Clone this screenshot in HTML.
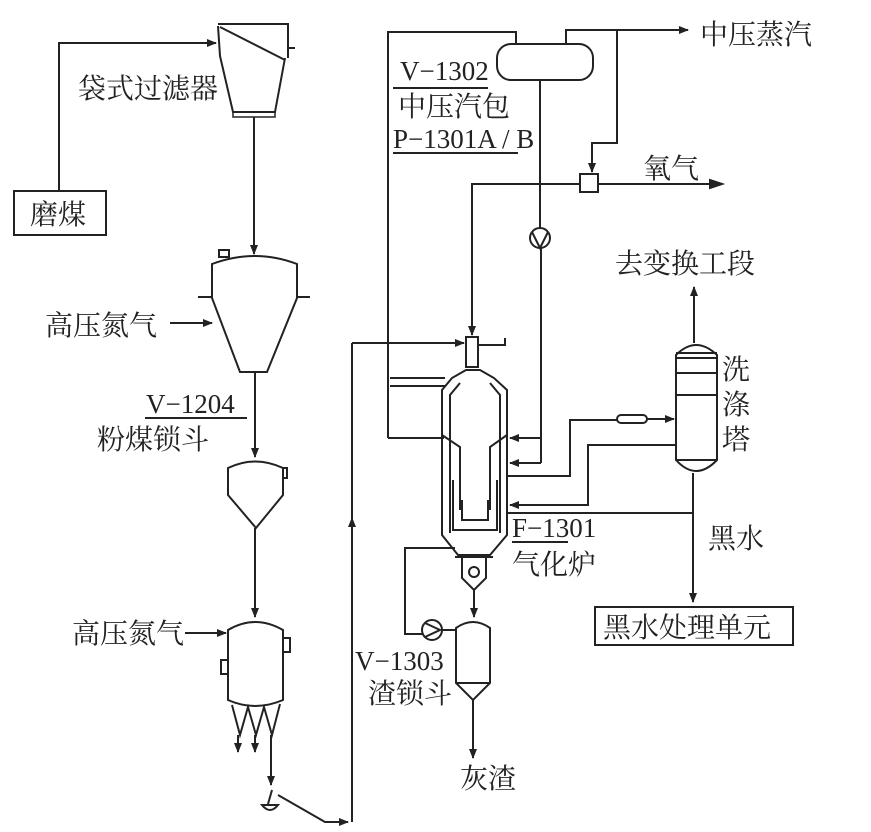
<!DOCTYPE html>
<html><head><meta charset="utf-8"><style>
html,body{margin:0;padding:0;background:#fff;}
svg{display:block;}
text{fill:#222;}
.c{font-family:"Liberation Serif","Noto Serif CJK SC","Noto Sans CJK SC",serif;font-size:28px;}
.s{font-family:"Liberation Serif",serif;font-size:27px;}
</style></head><body>
<svg width="871" height="832" viewBox="0 0 871 832" xmlns="http://www.w3.org/2000/svg">
<defs><marker id="a" markerWidth="10" markerHeight="8" refX="9" refY="4" orient="auto" markerUnits="userSpaceOnUse"><path d="M0,0 L10,4 L0,8 z" fill="#222"/></marker></defs>
<g fill="none" stroke="#222" stroke-width="2">
<rect x="14" y="191" width="92" height="44"/>
<polyline points="59,191 59,43 216,43" marker-end="url(#a)"/>
<polyline points="218,24 288,24 288,58"/>
<line x1="220" y1="27" x2="285" y2="60"/>
<polyline points="218,26 220,56 233,112 275,112 285,58"/>
<line x1="288" y1="48" x2="295" y2="48"/>
<rect x="233" y="112" width="42" height="5" stroke-width="1.5"/>
<line x1="254" y1="117" x2="254" y2="254" marker-end="url(#a)"/>
<path d="M212,264 Q255,248 297,264 L297,298 L267,372 L240,372 L212,298 Z"/>
<rect x="219" y="250" width="10" height="7"/>
<line x1="198" y1="297" x2="212" y2="297"/><line x1="297" y1="297" x2="310" y2="297"/>
<line x1="170" y1="323" x2="212" y2="323" marker-end="url(#a)"/>
<line x1="255" y1="372" x2="255" y2="457" marker-end="url(#a)"/>
<line x1="145" y1="418" x2="247" y2="418"/>
<path d="M228,468 Q255,455 283,468 L283,495 L256,528 L228,495 Z"/>
<rect x="283" y="468" width="4" height="10"/>
<line x1="255" y1="528" x2="255" y2="617" marker-end="url(#a)"/>
<path d="M228,630 Q255,614 283,630 L283,700 Q255,712 228,700 Z"/>
<rect x="283" y="638" width="7" height="14"/><rect x="221" y="660" width="7" height="14"/>
<polyline points="232,705 240,735 248,707 256,735 264,707 272,735 280,704"/>
<line x1="238" y1="735" x2="238" y2="752" marker-end="url(#a)"/>
<line x1="255" y1="735" x2="255" y2="752" marker-end="url(#a)"/>
<line x1="271" y1="735" x2="271" y2="785" marker-end="url(#a)"/>
<line x1="185" y1="633" x2="226" y2="633" marker-end="url(#a)"/>
<path d="M262,805 Q270,815 278,805 Z"/>
<line x1="272" y1="790" x2="268" y2="804"/>
<polyline points="278,795 325,822 348,822" marker-end="url(#a)"/>
<line x1="352" y1="822" x2="352" y2="343"/>
<line x1="352" y1="560" x2="352" y2="518" marker-end="url(#a)"/>
<line x1="352" y1="343" x2="464" y2="343" marker-end="url(#a)"/>
<polyline points="388,438 388,32 516,32 516,44"/>
<line x1="388" y1="438" x2="444" y2="438"/>
<rect x="497" y="44" width="96" height="36" rx="14"/>
<polyline points="566,44 566,30 688,30" marker-end="url(#a)"/>
<polyline points="617,30 617,143 592,143 592,172" marker-end="url(#a)"/>
<rect x="580" y="174" width="18" height="18"/>
<line x1="393" y1="88" x2="488" y2="88"/>
<line x1="393" y1="153" x2="518" y2="153"/>
<line x1="722" y1="184" x2="598" y2="184"/>
<path d="M722,184 L710,180 L710,188 Z" fill="#222"/>
<polyline points="580,184 472,184 472,335" marker-end="url(#a)"/>
<line x1="540" y1="80" x2="540" y2="228"/>
<circle cx="540" cy="238" r="10"/><polyline points="532,232 540,248 548,232"/>
<line x1="541" y1="248" x2="541" y2="463"/>
<line x1="541" y1="438" x2="510" y2="438" marker-end="url(#a)"/>
<line x1="541" y1="463" x2="510" y2="463" marker-end="url(#a)"/>
<rect x="466" y="337" width="12" height="30"/>
<polyline points="478,345 505,345 505,338"/>
<path d="M442,535 L442,390 L452,378 L466,370 L480,370 L494,378 L507,390 L507,535 L490,555 L458,555 Z"/>
<path d="M450,533 L450,395 L460,383 M500,533 L500,395 L490,383" />
<polyline points="442,435 460,447 460,510"/><polyline points="507,435 490,447 490,510"/>
<polyline points="453,480 453,530 497,530 497,480"/>
<polyline points="462,500 462,520 488,520 488,500"/>
<line x1="390" y1="378" x2="445" y2="378"/><line x1="390" y1="386" x2="445" y2="386"/>
<line x1="455" y1="557" x2="493" y2="557"/>
<path d="M462,557 L462,578 L474,590 L486,578 L486,557"/>
<circle cx="474" cy="572" r="5"/>
<line x1="474" y1="590" x2="474" y2="617" marker-end="url(#a)"/>
<polyline points="455,548 405,548 405,634 422,634"/>
<circle cx="432" cy="630" r="10"/><polyline points="425,623 440,630 425,637"/>
<line x1="442" y1="630" x2="455" y2="630"/>
<path d="M456,628 Q473,616 490,628 L490,683 L473,700 L456,683 Z"/>
<line x1="456" y1="683" x2="490" y2="683"/>
<line x1="473" y1="700" x2="473" y2="758" marker-end="url(#a)"/>
<polyline points="507,476 570,476 570,420 617,420"/>
<rect x="617" y="415" width="30" height="8" rx="4"/>
<line x1="647" y1="419" x2="674" y2="419" marker-end="url(#a)"/>
<polyline points="676,445 588,445 588,505 510,505" marker-end="url(#a)"/>
<line x1="507" y1="513" x2="693" y2="513"/>
<path d="M676,355 Q696,335 717,355 L717,460 Q696,482 676,460 Z"/>
<line x1="676" y1="353" x2="717" y2="353"/><line x1="676" y1="358" x2="717" y2="358"/>
<line x1="676" y1="373" x2="717" y2="373"/><line x1="676" y1="395" x2="717" y2="395"/>
<line x1="676" y1="460" x2="717" y2="460"/>
<line x1="694" y1="343" x2="694" y2="287" marker-end="url(#a)"/>
<line x1="693" y1="473" x2="693" y2="602" marker-end="url(#a)"/>
<rect x="595" y="607" width="198" height="38"/>
<line x1="512" y1="542" x2="568" y2="542"/>
</g>
<text class="c" x="78" y="98">袋式过滤器</text>
<text class="c" x="30" y="224">磨煤</text>
<text class="c" x="45" y="335">高压氮气</text>
<text class="s" x="146" y="413">V−1204</text>
<text class="c" x="97" y="449">粉煤锁斗</text>
<text class="c" x="72" y="643">高压氮气</text>
<text class="s" x="400" y="80">V−1302</text>
<text class="c" x="398" y="116">中压汽包</text>
<text class="s" x="393" y="148">P−1301A / B</text>
<text class="c" x="700" y="44">中压蒸汽</text>
<text class="c" x="643" y="178">氧气</text>
<text class="c" x="615" y="273">去变换工段</text>
<text class="c" x="722" y="379">洗</text>
<text class="c" x="722" y="414">涤</text>
<text class="c" x="722" y="449">塔</text>
<text class="s" x="512" y="537">F−1301</text>
<text class="c" x="512" y="574">气化炉</text>
<text class="c" x="708" y="548">黑水</text>
<text class="c" x="603" y="637">黑水处理单元</text>
<text class="s" x="355" y="670">V−1303</text>
<text class="c" x="368" y="703">渣锁斗</text>
<text class="c" x="460" y="788">灰渣</text>
</svg>
</body></html>
